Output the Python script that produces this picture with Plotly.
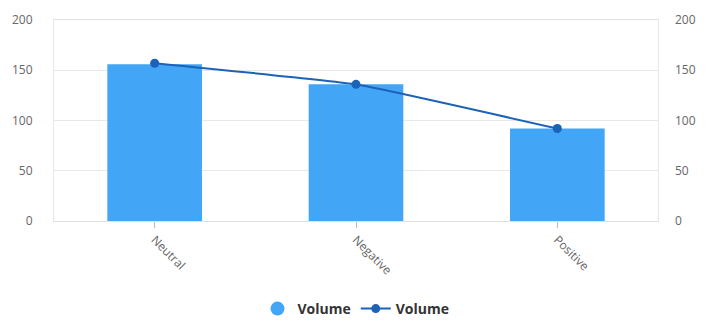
import plotly.graph_objects as go

categories = ["Neutral", "Negative", "Positive"]
bar_values = [156, 136, 92]
line_values = [157, 136, 92]
y_ticks = [0, 50, 100, 150, 200]

BAR = "#42A5F5"
LINE = "#1B62B8"
GRID = "#E8E8E8"
TXT = "#666666"

fig = go.Figure()
fig.add_trace(go.Bar(x=categories, y=bar_values, name="Volume", marker=dict(color=BAR, line=dict(width=0)),
                     width=0.47, showlegend=False))
# legend entry for bar series (circle symbol)
fig.add_trace(go.Scatter(x=[None], y=[None], mode="markers", name="Volume",
                         marker=dict(color=BAR, size=14, symbol="circle")))
fig.add_trace(go.Scatter(x=categories, y=line_values, name="Volume", yaxis="y2",
                         mode="lines+markers", line=dict(color=LINE, width=2, shape="spline", smoothing=0.3),
                         marker=dict(color=LINE, size=9)))

H, T, B = 325, 20, 0
ph = H - T - B
dom0 = (H - B - 221) / ph

fig.update_layout(
    width=715, height=325,
    margin=dict(l=54, r=57, t=T, b=B),
    plot_bgcolor="white", paper_bgcolor="white",
    font=dict(family="Open Sans", color=TXT, size=12),
    xaxis=dict(tickangle=45, ticks="outside", ticklen=6, tickcolor="#BBBBBB", automargin=False,
               showline=True, linecolor="#E0E0E0", mirror=True, showgrid=False,
               tickfont=dict(size=12, color=TXT)),
    yaxis=dict(range=[0, 200], tickvals=y_ticks, showgrid=True, gridcolor=GRID, automargin=False,
               domain=[dom0, 1],
               showline=True, linecolor="#E8E8E8", mirror=True, zeroline=False,
               ticklabelstandoff=18, tickfont=dict(size=12, color=TXT)),
    yaxis2=dict(range=[0, 200], tickvals=y_ticks, overlaying="y", side="right", showgrid=False,
                automargin=False, zeroline=False, ticklabelstandoff=16, tickfont=dict(size=12, color=TXT)),
    legend=dict(orientation="h", x=0.5, xanchor="center", y=0, yanchor="bottom",
                font=dict(size=14, color="#333333", family="Open Sans", weight="bold"),
                itemwidth=30, traceorder="normal"),
)

fig.write_html("out.html")
